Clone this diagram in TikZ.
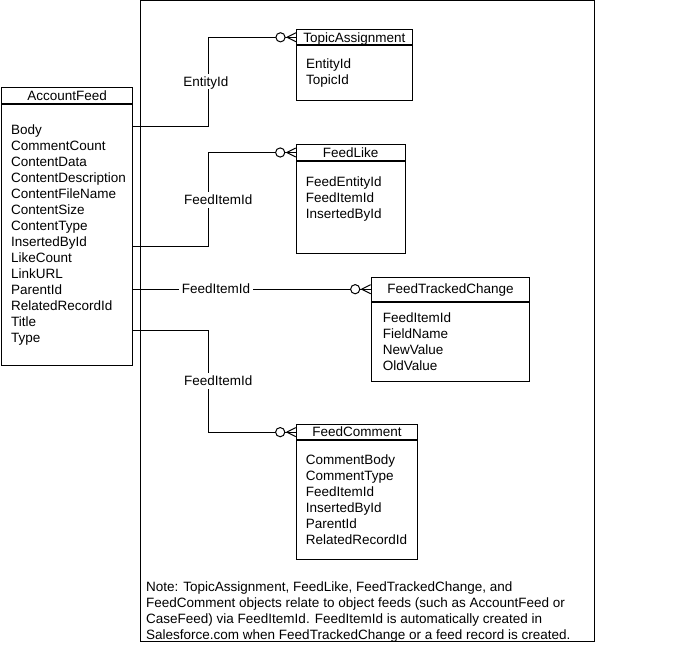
\documentclass[tikz,border=0pt]{standalone}
\usepackage{fontspec}
\setmainfont{Liberation Sans}
\usetikzlibrary{positioning}
\newcommand{\zeromany}[1]{%
  \draw[link, fill=white] ([xshift=-15.5pt]#1) circle[radius=4.6pt];
  \draw[link] ([xshift=-9pt]#1) -- ([yshift=4.5pt]#1) ([xshift=-9pt]#1) -- ([yshift=-4.5pt]#1);}

\begin{document}
\begin{tikzpicture}[x=1pt, y=-1pt,
  font=\fontsize{13.5pt}{16pt}\selectfont,
  hdr/.style={draw, line width=1pt, anchor=north west, inner sep=0pt, text height=9.6pt, text depth=0pt},
  ent/.style={draw, line width=1pt, anchor=north west, inner sep=0pt},
  field/.style={anchor=base west, inner sep=0pt},
  link/.style={line width=1pt},
  lbl/.style={fill=white, inner sep=3pt, text height=9.6pt, text depth=0pt}]
\useasboundingbox (0,0) rectangle (685,652);
\draw[line width=1pt] (140.3,0.8) rectangle (594.3,641.3);

% AccountFeed
\node[hdr, minimum width=131.3pt, minimum height=16.6pt] (afhead) at (1,86.7) {AccountFeed};
\node[ent, minimum width=131.3pt, minimum height=260.7pt] (afbody) at (afhead.south west) {};
\foreach \f [count=\i from 0] in {Body,CommentCount,ContentData,ContentDescription,ContentFileName,ContentSize,ContentType,InsertedById,LikeCount,LinkURL,ParentId,RelatedRecordId,Title,Type}
  \node[field] (af-\i) at (11,{134.7+16*\i}) {\f};

% TopicAssignment
\node[hdr, minimum width=115.7pt, minimum height=15pt] (tahead) at (296,29.3) {TopicAssignment};
\node[ent, minimum width=115.7pt, minimum height=54.7pt] (tabody) at (tahead.south west) {};
\foreach \f [count=\i from 0] in {EntityId,TopicId}
  \node[field] (ta-\i) at (306,{68.2+16*\i}) {\f};

% FeedLike
\node[hdr, minimum width=109pt, minimum height=16pt] (flhead) at (295.7,144) {FeedLike};
\node[ent, minimum width=109pt, minimum height=91.7pt] (flbody) at (flhead.south west) {};
\foreach \f [count=\i from 0] in {FeedEntityId,FeedItemId,InsertedById}
  \node[field] (fl-\i) at (305.7,{187+16*\i}) {\f};

% FeedTrackedChange
\node[hdr, minimum width=158.6pt, minimum height=24pt] (fthead) at (370.7,276.7) {FeedTrackedChange};
\node[ent, minimum width=158.6pt, minimum height=79.3pt] (ftbody) at (fthead.south west) {};
\foreach \f [count=\i from 0] in {FeedItemId,FieldName,NewValue,OldValue}
  \node[field] (ft-\i) at (382.7,{322+16*\i}) {\f};

% FeedComment
\node[hdr, minimum width=121.6pt, minimum height=15.3pt] (fchead) at (295.7,424) {FeedComment};
\node[ent, minimum width=121.6pt, minimum height=119pt] (fcbody) at (fchead.south west) {};
\foreach \f [count=\i from 0] in {CommentBody,CommentType,FeedItemId,InsertedById,ParentId,RelatedRecordId}
  \node[field] (fc-\i) at (305.7,{464+16*\i}) {\f};

% connectors
\coordinate (afe1) at (132.3,127);
\coordinate (afe2) at (132.3,247);
\coordinate (afe4) at (132.3,330);
\coordinate (bend) at (208,0);
\draw[link] (afe1) -| (bend |- tahead.west) -- (tahead.west);
\draw[link] (afe2) -| (bend |- flhead.west) -- (flhead.west);
\draw[link] (fthead.west -| afbody.east) -- (fthead.west);
\draw[link] (afe4) -| (bend |- fchead.west) -- (fchead.west);
\zeromany{tahead.west}
\zeromany{flhead.west}
\zeromany{fthead.west}
\zeromany{fchead.west}

\node[lbl] (l-ta) at (205.8,81.7) {EntityId};
\node[lbl] (l-fl) at (218.3,200) {FeedItemId};
\node[lbl] (l-ft) at (216,288.7) {FeedItemId};
\node[lbl] (l-fc) at (218.3,381) {FeedItemId};

% note
\node[anchor=north west, align=left, inner sep=0pt] (note) at (146,581.3) {Note: TopicAssignment, FeedLike, FeedTrackedChange, and\\
FeedComment objects relate to object feeds (such as AccountFeed or\\
CaseFeed) via FeedItemId. FeedItemId is automatically created in\\
Salesforce.com when FeedTrackedChange or a feed record is created.};
\end{tikzpicture}
\end{document}
